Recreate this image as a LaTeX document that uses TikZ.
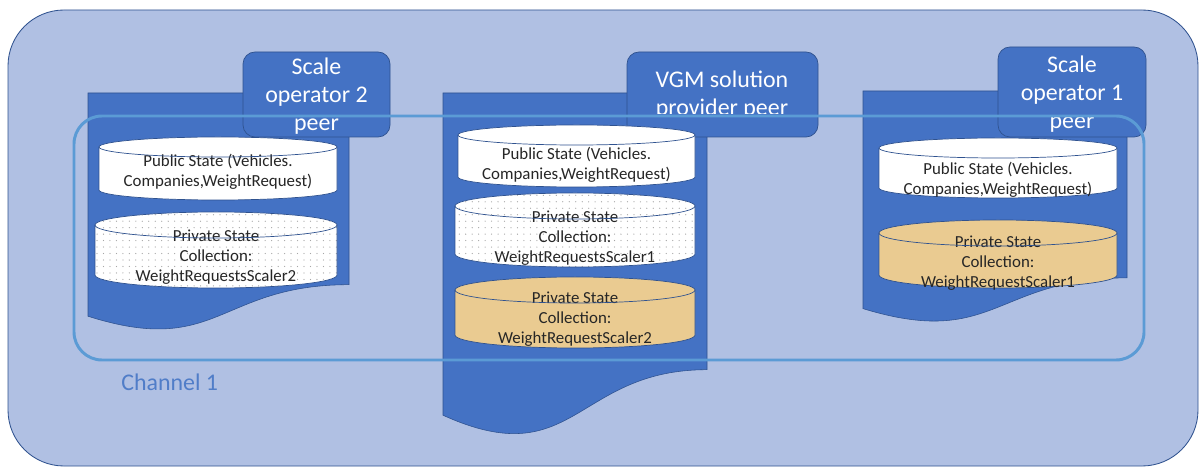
\documentclass[tikz,border=0pt]{standalone}
\usepackage{fontspec}
\setmainfont{Carlito}
\usetikzlibrary{calc,patterns.meta}
\usepackage{tkz-euclide}
\definecolor{BackClr}{rgb}{0.690,0.753,0.890}
\definecolor{DocClr}{rgb}{0.267,0.447,0.769}
\definecolor{EdgeClr}{rgb}{0.184,0.322,0.561}
\definecolor{ChanClr}{rgb}{0.357,0.608,0.835}
\definecolor{ChanTxtClr}{rgb}{0.314,0.490,0.784}
\definecolor{PapyrusClr}{rgb}{0.918,0.796,0.569}
\definecolor{TxtClr}{rgb}{0.15,0.15,0.15}

% document sheet with wavy foot: x, top, width, height
\newcommand{\DocSheet}[4]{%
  \draw[docsheet] (#1,#2) -- ({#1+#3},#2) -- ({#1+#3},{#2-0.802*#4})
    .. controls ({#1+0.5*#3},{#2-0.802*#4}) and ({#1+0.5*#3},{#2-1.1075*#4}) .. (#1,{#2-0.934*#4}) -- cycle;}

% database drum: name, left, right, top, bottom, lid radius, style, text y, text
\newcommand{\DbDrum}[9]{%
  \pgfmathsetmacro{\rx}{(#3-#2)/2}
  \path[#7,draw=EdgeClr,line width=.5pt] (#2,#4-#6) -- (#2,#5+#6)
    arc[start angle=180,end angle=360,x radius=\rx,y radius=#6] -- (#3,#4-#6)
    arc[start angle=0,end angle=180,x radius=\rx,y radius=#6] -- cycle;
  \node[drumtext] (#1) at ({(#2+#3)/2},#8) {#9};
  \draw[EdgeClr,line width=.5pt] (#2,#4-#6) arc[start angle=180,end angle=360,x radius=\rx,y radius=#6];}

\begin{document}
\begin{tikzpicture}[x=0.025cm,y=0.025cm,
  docsheet/.style={fill=DocClr,draw=EdgeClr,line width=.4pt},
  peerbox/.style={fill=DocClr,draw=EdgeClr,line width=.5pt,rounded corners=0.3cm},
  peertext/.style={text=white,align=center,inner sep=0pt,font=\fontsize{17}{20}\selectfont},
  drumtext/.style={text=TxtClr,align=center,inner sep=0pt,font=\fontsize{12}{14.2}\selectfont},
  pubdb/.style={fill=white},
  dotdb/.style={preaction={fill=white},pattern={Dots[distance=4.6pt,radius=.45pt]},pattern color=gray!70},
  papdb/.style={fill=PapyrusClr}]
\useasboundingbox (0,0) rectangle (1202,467);

\tkzDefPoints{8/1/F1,1198/457/F2,74/107/C1,1144/351/C2}

% network frame
\draw[fill=BackClr,draw=EdgeClr,line width=.6pt,rounded corners=1.4cm] (F1) rectangle (F2);

% peers
\DocSheet{88}{374}{261}{239}
\DocSheet{443}{374}{264}{345}
\DocSheet{863}{376}{264}{233}

\draw[peerbox] (243,415) rectangle (390,330);
\node[peertext] (op2) at (316.5,371) {Scale\\operator 2\\peer};
\draw[peerbox] (627,415) rectangle (818,330);
\begin{scope}
  \clip (627,353) rectangle (818,415);
  \node[peertext] (vgm) at (722,372) {VGM solution\\provider peer};
\end{scope}
\draw[peerbox] (998,420) rectangle (1146,330);
\node[peertext] (op1) at (1072,373) {Scale\\operator 1\\peer};

% channel
\draw[ChanClr,line width=2.1pt,rounded corners=0.7cm] (C1) rectangle (C2);
\node[anchor=west,inner sep=0pt,text=ChanTxtClr,font=\fontsize{17}{20}\selectfont] (chan) at (121,85) {Channel 1};

% ledgers
\DbDrum{pubA}{99}{337}{330}{267}{10}{pubdb}{295}{Public State (Vehicles.\\Companies,WeightRequest)}
\DbDrum{privA}{95}{337}{255}{179}{13}{dotdb}{210}{Private State\\Collection:\\WeightRequestsScaler2}

\DbDrum{pubB}{458}{695}{342}{280}{10}{pubdb}{302}{Public State (Vehicles.\\Companies,WeightRequest)}
\DbDrum{privB}{455}{695}{274}{200}{13}{dotdb}{229}{Private State\\Collection:\\WeightRequestsScaler1}
\DbDrum{privC}{455}{695}{190}{119}{13}{papdb}{148}{Private State\\Collection:\\WeightRequestScaler2}

\DbDrum{pubD}{879}{1117}{329}{269}{10}{pubdb}{287}{Public State (Vehicles.\\Companies,WeightRequest)}
\DbDrum{privD}{879}{1117}{247}{179}{13}{papdb}{204}{Private State\\Collection:\\WeightRequestScaler1}

\end{tikzpicture}
\end{document}
